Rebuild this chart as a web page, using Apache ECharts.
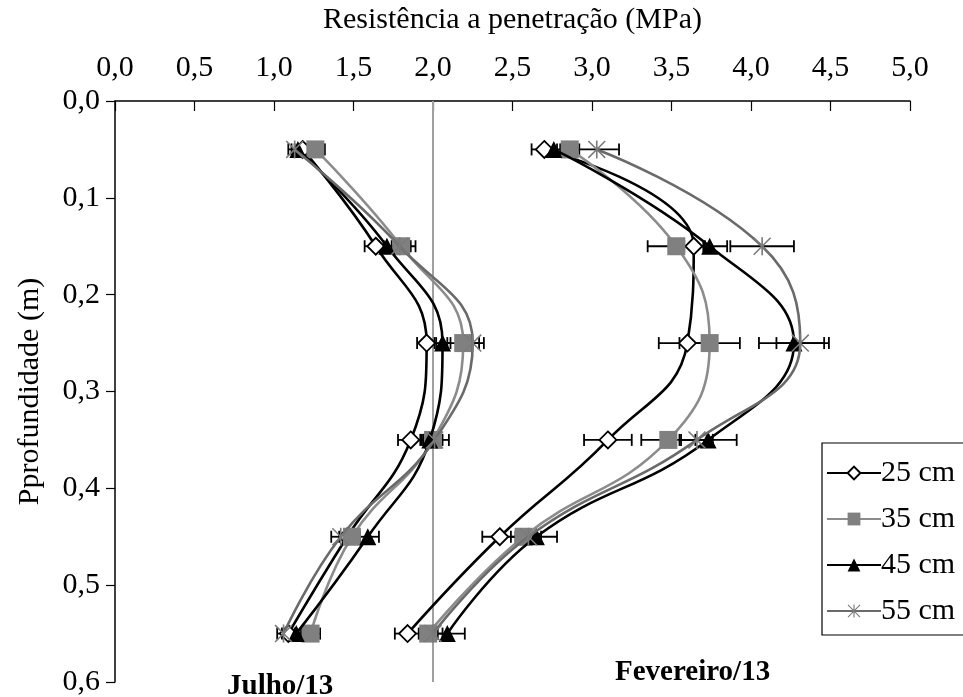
<!DOCTYPE html>
<html>
<head>
<meta charset="utf-8">
<script src="https://cdn.jsdelivr.net/npm/echarts@6/dist/echarts.min.js"></script>
<style>html,body{margin:0;padding:0;background:#fff;}#c{width:963px;height:697px;}</style>
</head>
<body>
<div id="c"></div>
<script>
var depth = [0.05, 0.15, 0.25, 0.35, 0.45, 0.55];
var seriesNames = ['25 cm', '35 cm', '45 cm', '55 cm'];
var xTicks = [0, 0.5, 1, 1.5, 2, 2.5, 3, 3.5, 4, 4.5, 5];
var refLine = 2.0;

var jul25 = [1.18, 1.64, 1.96, 1.86, 1.46, 1.09];
var jul35 = [1.26, 1.80, 2.19, 2.00, 1.49, 1.23];
var jul45 = [1.15, 1.71, 2.06, 1.98, 1.59, 1.14];
var jul55 = [1.13, 1.79, 2.25, 2.01, 1.42, 1.06];
var fev25 = [2.70, 3.64, 3.60, 3.10, 2.42, 1.84];
var fev35 = [2.86, 3.53, 3.74, 3.48, 2.57, 1.97];
var fev45 = [2.76, 3.74, 4.27, 3.73, 2.65, 2.09];
var fev55 = [3.03, 4.07, 4.31, 3.66, 2.60, 2.00];

var jul25err = [0.05, 0.07, 0.06, 0.08, 0.05, 0.04];
var jul35err = [0.06, 0.06, 0.10, 0.06, 0.05, 0.06];
var jul45err = [0.04, 0.05, 0.05, 0.05, 0.07, 0.04];
var jul55err = [0.04, 0.10, 0.07, 0.09, 0.06, 0.04];
var fev25err = [0.08, 0.06, 0.18, 0.15, 0.11, 0.08];
var fev35err = [0.06, 0.18, 0.19, 0.17, 0.08, 0.06];
var fev45err = [0.05, 0.11, 0.22, 0.18, 0.13, 0.11];
var fev55err = [0.14, 0.20, 0.15, 0.10, 0.08, 0.06];

var starPath = 'path://M9.1 0 L10.9 0 L10.9 20 L9.1 20 Z M0 1.2 L1.2 0 L20 18.8 L18.8 20 Z M18.8 0 L20 1.2 L1.2 20 L0 18.8 Z';

var styles = {
  '25 cm': {line: '#000000', symbol: 'diamond', size: 17, item: {color: '#ffffff', borderColor: '#000000', borderWidth: 1.8}},
  '35 cm': {line: '#8c8c8c', symbol: 'rect', size: 18, item: {color: '#808080', borderColor: '#808080', borderWidth: 0}},
  '45 cm': {line: '#000000', symbol: 'triangle', size: 17, item: {color: '#000000', borderColor: '#000000', borderWidth: 0}},
  '55 cm': {line: '#6a6a6a', symbol: starPath, size: 18, item: {color: '#7a7a7a', borderColor: '#7a7a7a', borderWidth: 0}}
};

var groups = [
  {name: '25 cm', vals: [jul25, fev25], errs: [jul25err, fev25err]},
  {name: '35 cm', vals: [jul35, fev35], errs: [jul35err, fev35err]},
  {name: '45 cm', vals: [jul45, fev45], errs: [jul45err, fev45err]},
  {name: '55 cm', vals: [jul55, fev55], errs: [jul55err, fev55err]}
];

function fmt(v) { return v.toFixed(1).replace('.', ','); }

var series = [];
var errData = [];
groups.forEach(function (g, gi) {
  var st = styles[g.name];
  g.vals.forEach(function (arr, k) {
    var data = arr.map(function (v, i) { return [v, depth[i]]; });
    g.errs[k].forEach(function (e, i) { errData.push([arr[i], depth[i], e]); });
    var s = {
      name: g.name,
      type: 'line',
      data: data,
      smooth: 0.45,
      symbol: st.symbol,
      symbolSize: st.size,
      showAllSymbol: true,
      lineStyle: {color: st.line, width: 2.6},
      itemStyle: st.item,
      z: 3 + gi
    };
    if (gi === 0 && k === 0) {
      s.markLine = {
        silent: true,
        symbol: 'none',
        label: {show: false},
        lineStyle: {color: '#a0a0a0', width: 2, type: 'solid'},
        data: [{xAxis: refLine}],
        z: 1
      };
    }
    series.push(s);
  });
});

series.push({
  type: 'custom',
  name: 'err',
  data: errData,
  z: 2,
  renderItem: function (params, api) {
    var x = api.value(0), y = api.value(1), e = api.value(2);
    var p1 = api.coord([x - e, y]);
    var p2 = api.coord([x + e, y]);
    var h = 6;
    var st = {stroke: '#000000', lineWidth: 1.8};
    return {
      type: 'group',
      children: [
        {type: 'line', shape: {x1: p1[0], y1: p1[1], x2: p2[0], y2: p2[1]}, style: st},
        {type: 'line', shape: {x1: p1[0], y1: p1[1] - h, x2: p1[0], y2: p1[1] + h}, style: st},
        {type: 'line', shape: {x1: p2[0], y1: p2[1] - h, x2: p2[0], y2: p2[1] + h}, style: st}
      ]
    };
  }
});

var font = 'Liberation Serif';
var fs = 30;
var chart = echarts.init(document.getElementById('c'), null, {renderer: 'canvas'});
chart.setOption({
  animation: false,
  backgroundColor: '#ffffff',
  grid: {left: 115, right: 53, top: 97, bottom: 11, containLabel: false},
  xAxis: {
    type: 'value',
    position: 'top',
    min: xTicks[0],
    max: xTicks[xTicks.length - 1],
    interval: 0.5,
    name: 'Resistência a penetração (MPa)',
    nameLocation: 'middle',
    nameGap: 66,
    nameTextStyle: {fontFamily: font, fontSize: fs, color: '#000'},
    axisLine: {show: true, lineStyle: {color: '#000', width: 1.5}},
    axisTick: {show: true, inside: true, length: 10, lineStyle: {color: '#000', width: 1.2}},
    axisLabel: {formatter: fmt, fontFamily: font, fontSize: fs, color: '#000', margin: 18},
    splitLine: {show: false}
  },
  yAxis: {
    type: 'value',
    inverse: true,
    min: 0,
    max: 0.6,
    interval: 0.1,
    name: 'Pprofundidade (m)',
    nameLocation: 'middle',
    nameGap: 70,
    nameTextStyle: {fontFamily: font, fontSize: fs, color: '#000'},
    axisLine: {show: true, lineStyle: {color: '#000', width: 1.5}},
    axisTick: {show: true, inside: false, length: 9, lineStyle: {color: '#000', width: 1.2}},
    axisLabel: {formatter: fmt, fontFamily: font, fontSize: fs, color: '#000', margin: 15},
    splitLine: {show: false}
  },
  legend: {
    data: seriesNames,
    orient: 'vertical',
    left: 822,
    top: 443,
    itemWidth: 54,
    itemHeight: 16,
    itemGap: 16,
    padding: [15, 40, 9, 4],
    borderColor: '#000',
    borderWidth: 1.2,
    textStyle: {fontFamily: font, fontSize: fs, color: '#000', padding: [0, 0, 0, -5]}
  },
  graphic: [
    {type: 'text', left: 227, top: 672, style: {text: 'Julho/13', font: 'bold 29px "Liberation Serif"', fill: '#000'}},
    {type: 'text', left: 615, top: 658, style: {text: 'Fevereiro/13', font: 'bold 29px "Liberation Serif"', fill: '#000'}}
  ],
  series: series
});
</script>
</body>
</html>
